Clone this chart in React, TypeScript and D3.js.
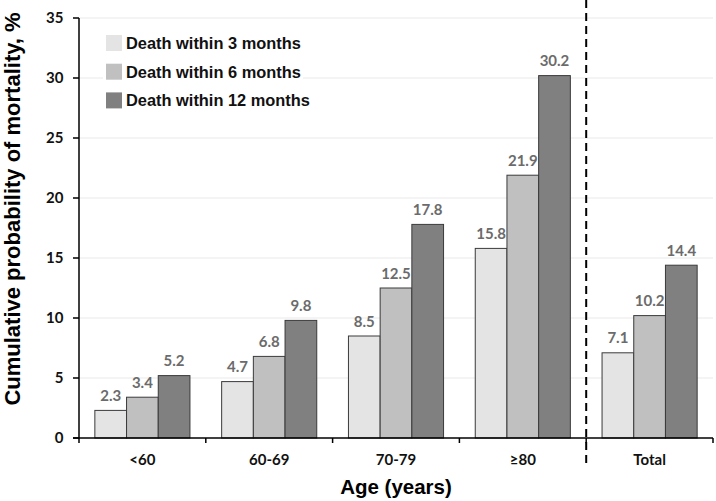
import React from "react";
import * as d3 from "d3";

const categories = ["<60", "60-69", "70-79", "≥80", "Total"];
const seriesNames = ["Death within 3 months", "Death within 6 months", "Death within 12 months"];
const death3 = [2.3, 4.7, 8.5, 15.8, 7.1];
const death6 = [3.4, 6.8, 12.5, 21.9, 10.2];
const death12 = [5.2, 9.8, 17.8, 30.2, 14.4];
const yTicks = [0, 5, 10, 15, 20, 25, 30, 35];
const colors = ["#e4e4e4", "#c0c0c0", "#808080"];

const W = 716, H = 501;
const L = 79, R = 713, T = 18, B = 438;

export default function App() {
  const series = [death3, death6, death12];
  const x = d3.scaleBand<string>().domain(categories).range([L, R]).paddingInner(0).paddingOuter(0);
  const inner = d3.scaleBand<number>().domain([0, 1, 2]).range([0, x.bandwidth()]).paddingInner(0).paddingOuter(0.5);
  const y = d3.scaleLinear().domain([0, 35]).range([B, T]);
  const tickFont = "Lato, 'Open Sans', sans-serif";
  const arial = "'Liberation Sans', Arial, sans-serif";
  const dashX = x("Total")!;
  return (
    <svg width={W} height={H} style={{ position: "absolute", left: 0, top: 0, background: "#fff" }}>
      {/* gridlines */}
      {yTicks.filter(t => t > 0).map(t => (
        <line key={t} x1={L} x2={R} y1={y(t)} y2={y(t)} stroke="#e9e9e9" strokeWidth={1.2} />
      ))}
      {/* legend */}
      <rect x={103} y={30} width={200} height={84} fill="#fff" />
      {seriesNames.map((n, i) => (
        <g key={n} transform={`translate(106,${35 + i * 28.7})`}>
          <rect width={16} height={16} fill={colors[i]} />
          <text x={20} y={14} fontFamily={arial} fontWeight="bold" fontSize={16.4} fill="#111">{n}</text>
        </g>
      ))}
      {/* bars */}
      {categories.map((c, ci) => (
        <g key={c} transform={`translate(${x(c)},0)`}>
          {series.map((s, si) => {
            const bx = inner(si)!;
            const v = s[ci];
            return (
              <g key={si}>
                <rect x={bx} y={y(v)} width={inner.bandwidth()} height={B - y(v)} fill={colors[si]} stroke="#3a3a3a" strokeWidth={1} />
                <text x={bx + inner.bandwidth() / 2} y={y(v) - 9.5} textAnchor="middle" fontFamily={tickFont} fontWeight="bold" fontSize={15} fill="#6b6b6b">{v.toFixed(1)}</text>
              </g>
            );
          })}
        </g>
      ))}
      {/* y axis */}
      <line x1={L} x2={L} y1={T} y2={B} stroke="#000" strokeWidth={1.5} />
      {yTicks.map(t => (
        <g key={t}>
          <line x1={L - 6} x2={L} y1={y(t)} y2={y(t)} stroke="#000" strokeWidth={1.5} />
          <text x={63.5} y={y(t)} dy="0.35em" textAnchor="end" fontFamily={tickFont} fontWeight="bold" fontSize={15} fill="#111">{t}</text>
        </g>
      ))}
      {/* x axis */}
      <line x1={L - 6} x2={R} y1={B} y2={B} stroke="#000" strokeWidth={1.5} />
      {categories.map((c) => (
        <g key={c}>
          <line x1={x(c)! + x.bandwidth()} x2={x(c)! + x.bandwidth()} y1={B} y2={B + 5} stroke="#000" strokeWidth={1.5} />
          <text x={x(c)! + x.bandwidth() / 2} y={465} textAnchor="middle" fontFamily={tickFont} fontWeight="bold" fontSize={15} fill="#111">{c}</text>
        </g>
      ))}
      <line x1={L} x2={L} y1={B} y2={B + 5} stroke="#000" strokeWidth={1.5} />
      {/* dashed divider */}
      <line x1={dashX} x2={dashX} y1={0} y2={468} stroke="#000" strokeWidth={2} strokeDasharray="8,5" />
      {/* titles */}
      <text x={(L + R) / 2} y={494} textAnchor="middle" fontFamily={arial} fontWeight="bold" fontSize={20.5} fill="#000">Age (years)</text>
      <text transform={`translate(20,${209}) rotate(-90)`} textAnchor="middle" fontFamily={arial} fontWeight="bold" fontSize={22} fill="#000">Cumulative probability of mortality, %</text>
    </svg>
  );
}
